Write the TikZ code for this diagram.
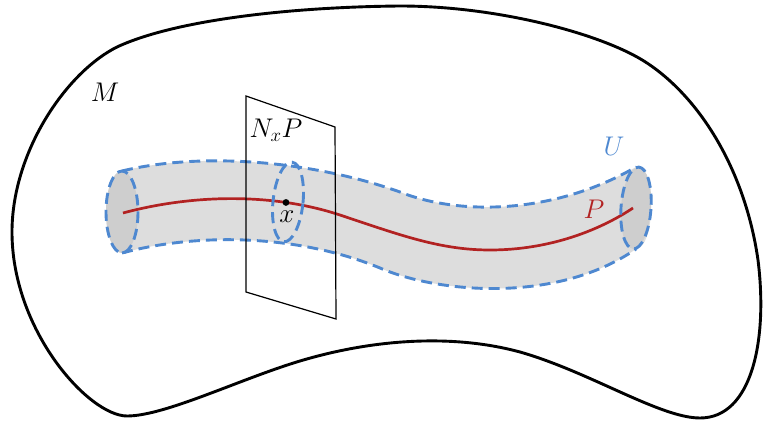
\RequirePackage{fix-cm}
\documentclass[tikz,border=0pt]{standalone}
\definecolor{ublue}{RGB}{78,136,208}
\definecolor{pred}{RGB}{178,34,34}
\definecolor{tubegray}{RGB}{221,221,221}
\definecolor{capgray}{RGB}{206,206,206}
\tikzset{
  outline/.style={line width=2.9pt, black},
  bluedash/.style={ublue, line width=2.9pt, dash pattern=on 11pt off 6pt},
  planeline/.style={black, line width=1.2pt, line join=miter},
  curveP/.style={pred, line width=2.7pt},
  lbl/.style={inner sep=0pt, font=\fontsize{27}{31}\selectfont}
}
\begin{document}
\begin{tikzpicture}[x=1pt,y=-1pt]
\useasboundingbox (0,0) rectangle (763,422);
% manifold M
\draw[outline] (12,230)
  .. controls (13,150) and (67,72) .. (117,47)
  .. controls (175,20) and (290,7) .. (400,6)
  .. controls (500,6) and (605,35) .. (647,63)
  .. controls (700,98) and (745,170) .. (758,260)
  .. controls (768,340) and (752,418) .. (700,418)
  .. controls (660,418) and (590,372) .. (520,352)
  .. controls (450,333) and (370,340) .. (300,361)
  .. controls (240,379) and (165,416) .. (127,416)
  .. controls (89,416) and (11,330) .. (12,230) -- cycle;
% tube fill
\fill[tubegray] (122,171)
  .. controls (200,152) and (310,160) .. (400,192)
  .. controls (460,216) and (555,214) .. (636,167)
  arc[start angle=-90, end angle=90, x radius=15, y radius=41]
  .. controls (555,305) and (435,292) .. (380,268)
  .. controls (300,235) and (200,232) .. (122,253)
  arc[start angle=90, end angle=270, x radius=16, y radius=41] -- cycle;
% caps
\fill[capgray] (122,212) ellipse[x radius=16, y radius=41];
\fill[capgray, rotate around={-4:(636,208)}] (636,208) ellipse[x radius=15, y radius=41];
% curve P
\draw[curveP] (123,213)
  .. controls (190,195) and (270,192) .. coordinate[pos=0.75] (xpt) (340,215)
  .. controls (400,235) and (440,250) .. (490,250)
  .. controls (550,250) and (600,230) .. (633,208);
% dashed boundaries
\draw[bluedash] (122,171)
  .. controls (200,152) and (310,160) .. (400,192)
  .. controls (460,216) and (555,214) .. (636,167);
\draw[bluedash] (122,253)
  .. controls (200,232) and (300,235) .. (380,268)
  .. controls (435,292) and (555,305) .. (636,249);
\draw[bluedash] (122,212) ellipse[x radius=16, y radius=41];
\draw[bluedash, rotate around={-4:(636,208)}] (636,208) ellipse[x radius=15, y radius=41];
\draw[bluedash, rotate around={-6:(288,202)}] (288,202) ellipse[x radius=15, y radius=40];
% normal plane
\coordinate (p1) at (246,96);
\coordinate (p2) at (335,127);
\coordinate (p3) at (336,319);
\coordinate (p4) at (246,292);
\draw[planeline] (p1) -- (p2) -- (p3) -- (p4) -- cycle;
% point x
\fill[black] (xpt) circle[radius=3.4];
% labels
\node[lbl] (lM) at (105,92) {$M$};
\node[lbl] (lN) at (276,130) {$N_xP$};
\node[lbl] (lx) at (287,217) {$x$};
\node[lbl, text=ublue] (lU) at (614,146) {$U$};
\node[lbl, text=pred] (lP) at (594,209) {$P$};
\end{tikzpicture}
\end{document}
